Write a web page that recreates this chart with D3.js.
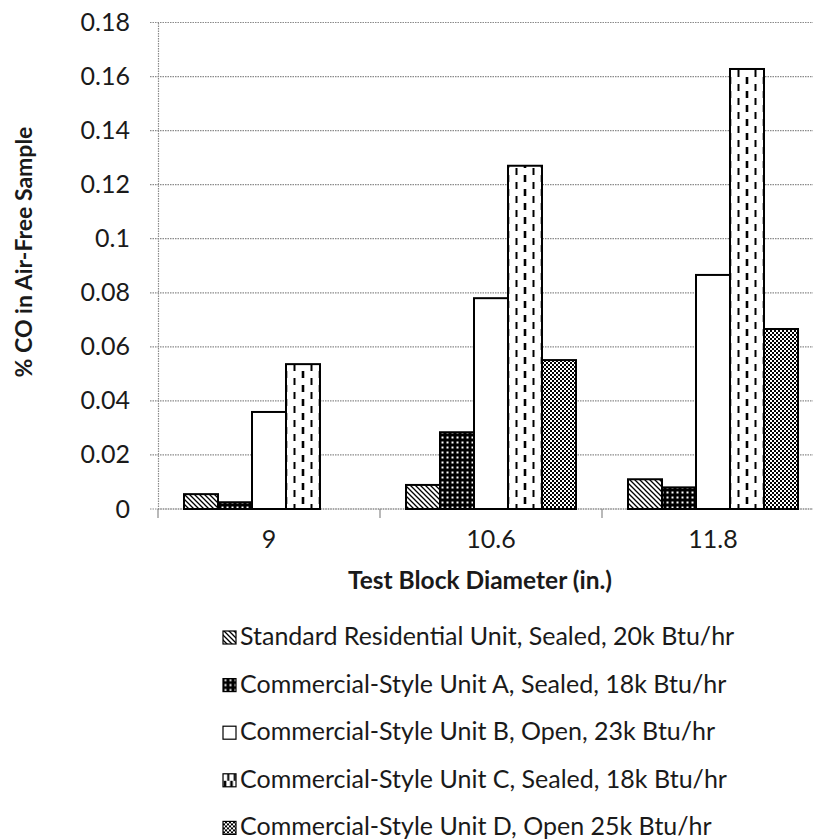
<!DOCTYPE html>
<html>
<head>
  <meta charset="UTF-8">
  <title>CO vs test block diameter</title>
  <style>
    body { margin: 0; background: white; font-family: 'Lato', sans-serif; }
    svg { display: block; }
    .tick text { fill: #1a1a1a; }
  </style>
</head>
<body>
  <svg id="chart" width="813" height="840"></svg>

  <script src="https://d3js.org/d3.v7.min.js"></script>
  <script>
    // data
    const categories = ["9", "10.6", "11.8"];
    const seriesNames = [
      "Standard Residential Unit, Sealed, 20k Btu/hr",
      "Commercial-Style Unit A, Sealed, 18k Btu/hr",
      "Commercial-Style Unit B, Open, 23k Btu/hr",
      "Commercial-Style Unit C, Sealed, 18k Btu/hr",
      "Commercial-Style Unit D, Open 25k Btu/hr"
    ];
    const residential = [0.0055, 0.0089, 0.011];
    const unitA = [0.0025, 0.0284, 0.008];
    const unitB = [0.0359, 0.078, 0.0866];
    const unitC = [0.0536, 0.127, 0.1628];
    const unitD = [0, 0.0551, 0.0666];
    const yTicks = [0, 0.02, 0.04, 0.06, 0.08, 0.1, 0.12, 0.14, 0.16, 0.18];
    const yTickLabels = ["0", "0.02", "0.04", "0.06", "0.08", "0.1", "0.12", "0.14", "0.16", "0.18"];

    const seriesValues = [residential, unitA, unitB, unitC, unitD];
    const keys = ["res", "a", "b", "c", "d"];

    let svg = d3.select("#chart");
    let defs = svg.append("defs");

    // plot area
    let plotLeft = 158, plotTop = 22.5, plotBottom = 509, bandW = 222;
    let x0 = d3.scaleBand().domain(categories).range([plotLeft, plotLeft + bandW * categories.length]);
    let x1 = d3.scaleBand().domain(keys).range([0, x0.bandwidth()]).paddingOuter(0.765);
    let y = d3.scaleLinear().domain([0, 0.18]).range([plotBottom, plotTop]);

    // patterns
    let pRes = defs.append("pattern").attr("id", "p-res")
      .attr("patternUnits", "userSpaceOnUse").attr("width", 5).attr("height", 5);
    pRes.append("rect").attr("width", 5).attr("height", 5).attr("fill", "white");
    pRes.append("path").attr("d", "M0,0 L5,5 M-1,4 L1,6 M4,-1 L6,1")
      .attr("stroke", "black").attr("stroke-width", 1.3);

    let pA = defs.append("pattern").attr("id", "p-a")
      .attr("patternUnits", "userSpaceOnUse").attr("width", 5).attr("height", 5);
    pA.append("rect").attr("width", 5).attr("height", 5).attr("fill", "black");
    pA.append("rect").attr("x", 1.5).attr("y", 1.5).attr("width", 2).attr("height", 2).attr("fill", "white");

    let pD = defs.append("pattern").attr("id", "p-d")
      .attr("patternUnits", "userSpaceOnUse").attr("width", 4).attr("height", 4);
    pD.append("rect").attr("width", 4).attr("height", 4).attr("fill", "white");
    pD.append("rect").attr("width", 2).attr("height", 2).attr("fill", "black");
    pD.append("rect").attr("x", 2).attr("y", 2).attr("width", 2).attr("height", 2).attr("fill", "black");

    // dashed-column pattern, one per box so the columns line up with its edges
    function dashPattern(id, px, w, dash, gap, sw) {
      let h = (dash + gap) * 2;
      let p = defs.append("pattern").attr("id", id)
        .attr("patternUnits", "userSpaceOnUse")
        .attr("x", px).attr("width", w / 2).attr("height", h / 2);
      p.append("rect").attr("width", w / 2).attr("height", h / 2).attr("fill", "white");
      p.append("line").attr("x1", w / 4).attr("x2", w / 4).attr("y1", 0).attr("y2", dash)
        .attr("stroke", "black").attr("stroke-width", sw);
      let half = (dash + gap) / 2;
      [0, w / 2].forEach(cx => {
        p.append("line").attr("x1", cx).attr("x2", cx).attr("y1", half).attr("y2", half + dash)
          .attr("stroke", "black").attr("stroke-width", sw * 1.3);
      });
      return "url(#" + id + ")";
    }

    function fillFor(k, i, px, w) {
      if (k === "res") return "url(#p-res)";
      if (k === "a") return "url(#p-a)";
      if (k === "b") return "white";
      if (k === "c") return dashPattern("p-c-" + i, px, w, 7, 7, 2);
      return "url(#p-d)";
    }

    // gridlines
    svg.append("g")
      .selectAll("line")
      .data(yTicks)
      .enter()
      .append("line")
      .attr("x1", plotLeft - 8)
      .attr("x2", 813)
      .attr("y1", d => y(d))
      .attr("y2", d => y(d))
      .attr("stroke", "#8a8a8a")
      .attr("stroke-width", 1.2)
      .attr("stroke-dasharray", "1.5,1");

    // y axis
    let yAxis = svg.append("g")
      .attr("transform", "translate(" + plotLeft + ",0)")
      .call(d3.axisLeft(y).tickValues(yTicks).tickSize(0).tickPadding(28)
        .tickFormat((d, i) => yTickLabels[i]));
    yAxis.select(".domain").attr("stroke", "#8a8a8a").attr("stroke-width", 1.2)
      .attr("stroke-dasharray", "1.5,1");
    yAxis.selectAll("text").style("font-size", "25px").style("font-family", "Lato");

    // x axis
    let xAxis = svg.append("g")
      .attr("transform", "translate(0," + plotBottom + ")")
      .call(d3.axisBottom(x0).tickSize(0).tickPadding(21));
    xAxis.select(".domain").remove();
    xAxis.selectAll("text").style("font-size", "25px").style("font-family", "Lato");

    svg.append("line")
      .attr("x1", plotLeft).attr("x2", 813)
      .attr("y1", plotBottom).attr("y2", plotBottom)
      .attr("stroke", "#8a8a8a").attr("stroke-width", 1.2).attr("stroke-dasharray", "1.5,1");

    // boundary ticks between categories
    svg.append("g")
      .selectAll("line")
      .data(categories)
      .enter()
      .append("line")
      .attr("x1", d => x0(d)).attr("x2", d => x0(d))
      .attr("y1", plotBottom).attr("y2", plotBottom + 9)
      .attr("stroke", "#8a8a8a").attr("stroke-width", 1.2);

    // bars
    let barData = [];
    categories.forEach((c, ci) => {
      keys.forEach((k, si) => {
        barData.push({ cat: c, key: k, value: seriesValues[si][ci], idx: ci });
      });
    });

    svg.append("g")
      .selectAll("rect")
      .data(barData.filter(d => d.value > 0))
      .enter()
      .append("rect")
      .attr("x", d => x0(d.cat) + x1(d.key))
      .attr("y", d => y(d.value))
      .attr("width", x1.bandwidth())
      .attr("height", d => y(0) - y(d.value))
      .attr("fill", d => fillFor(d.key, d.idx, x0(d.cat) + x1(d.key), x1.bandwidth()))
      .attr("stroke", "black")
      .attr("stroke-width", 2);

    // axis titles
    svg.append("text")
      .attr("transform", "translate(32,252) rotate(-90)")
      .attr("text-anchor", "middle")
      .style("font-family", "Lato").style("font-weight", "bold").style("font-size", "23px")
      .attr("fill", "#1a1a1a")
      .text("% CO in Air-Free Sample");

    svg.append("text")
      .attr("x", 480).attr("y", 589)
      .attr("text-anchor", "middle")
      .style("font-family", "Lato").style("font-weight", "bold").style("font-size", "24.5px")
      .attr("fill", "#1a1a1a")
      .text("Test Block Diameter (in.)");

    // legend
    let legend = svg.append("g").attr("transform", "translate(223,0)");
    let rows = legend.selectAll("g")
      .data(keys)
      .enter()
      .append("g")
      .attr("transform", (d, i) => "translate(0," + (645 + i * 47.6) + ")");

    rows.append("rect")
      .attr("x", 0).attr("y", -14)
      .attr("width", 13).attr("height", 13)
      .attr("fill", (d, i) => fillFor(d, "leg" + i, 223, 13))
      .attr("stroke", "black")
      .attr("stroke-width", 1.2);

    rows.append("text")
      .attr("x", 17)
      .attr("y", 0)
      .style("font-family", "Lato").style("font-size", "25px")
      .attr("fill", "#1a1a1a")
      .text((d, i) => seriesNames[i]);
  </script>
</body>
</html>
